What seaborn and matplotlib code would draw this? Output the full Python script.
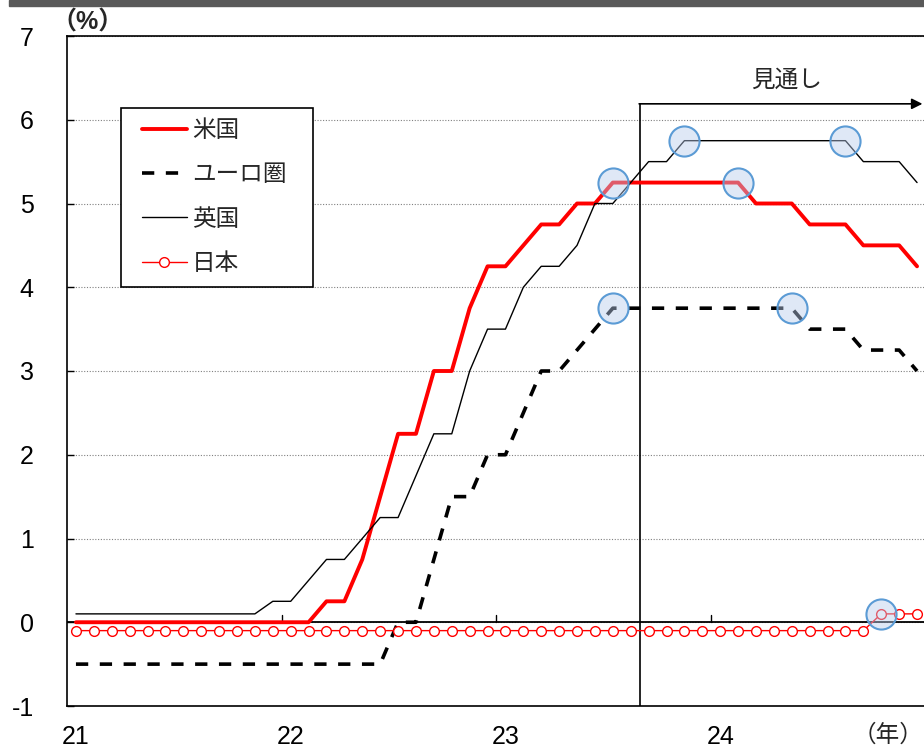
import numpy as np
import pandas as pd
import matplotlib
matplotlib.use("Agg")
import matplotlib.pyplot as plt
from matplotlib.patches import Rectangle
import seaborn as sns

# Policy rates, month-end, Jan 2021 - Dec 2024 (%)
months = pd.period_range("2021-01", "2024-12", freq="M")
year_labels = ["21", "22", "23", "24"]

us = [0, 0, 0, 0, 0, 0, 0, 0, 0, 0, 0, 0,
      0, 0, 0.25, 0.25, 0.75, 1.5, 2.25, 2.25, 3.0, 3.0, 3.75, 4.25,
      4.25, 4.5, 4.75, 4.75, 5.0, 5.0, 5.25, 5.25, 5.25, 5.25, 5.25, 5.25,
      5.25, 5.25, 5.0, 5.0, 5.0, 4.75, 4.75, 4.75, 4.5, 4.5, 4.5, 4.25]

euro = [-0.5, -0.5, -0.5, -0.5, -0.5, -0.5, -0.5, -0.5, -0.5, -0.5, -0.5, -0.5,
        -0.5, -0.5, -0.5, -0.5, -0.5, -0.5, 0, 0, 0.75, 1.5, 1.5, 2.0,
        2.0, 2.5, 3.0, 3.0, 3.25, 3.5, 3.75, 3.75, 3.75, 3.75, 3.75, 3.75,
        3.75, 3.75, 3.75, 3.75, 3.75, 3.5, 3.5, 3.5, 3.25, 3.25, 3.25, 3.0]

uk = [0.1, 0.1, 0.1, 0.1, 0.1, 0.1, 0.1, 0.1, 0.1, 0.1, 0.1, 0.25,
      0.25, 0.5, 0.75, 0.75, 1.0, 1.25, 1.25, 1.75, 2.25, 2.25, 3.0, 3.5,
      3.5, 4.0, 4.25, 4.25, 4.5, 5.0, 5.0, 5.25, 5.5, 5.5, 5.75, 5.75,
      5.75, 5.75, 5.75, 5.75, 5.75, 5.75, 5.75, 5.75, 5.5, 5.5, 5.5, 5.25]

japan = [-0.1, -0.1, -0.1, -0.1, -0.1, -0.1, -0.1, -0.1, -0.1, -0.1, -0.1, -0.1,
         -0.1, -0.1, -0.1, -0.1, -0.1, -0.1, -0.1, -0.1, -0.1, -0.1, -0.1, -0.1,
         -0.1, -0.1, -0.1, -0.1, -0.1, -0.1, -0.1, -0.1, -0.1, -0.1, -0.1, -0.1,
         -0.1, -0.1, -0.1, -0.1, -0.1, -0.1, -0.1, -0.1, -0.1, 0.1, 0.1, 0.1]

# Turning points marked with circles: (series, month)
highlights = [("米国", "2023-07"), ("米国", "2024-02"),
              ("ユーロ圏", "2023-07"), ("ユーロ圏", "2024-05"),
              ("英国", "2023-11"), ("英国", "2024-08"),
              ("日本", "2024-10")]
outlook_start = "2023-09"

df = pd.DataFrame({"月": np.arange(len(months)),
                   "米国": us, "ユーロ圏": euro, "英国": uk, "日本": japan})

sns.set_theme(style="white")
plt.rcParams["font.family"] = ["Liberation Sans", "Noto Sans CJK JP"]
plt.rcParams["axes.unicode_minus"] = False

FS = 18

fig = plt.figure(figsize=(9.24, 7.48), dpi=100)
W, H = 924, 748
ax = fig.add_axes([67 / W, 42 / H, (926 - 67) / W, 670 / H])

# dark band across the top of the panel
fig.patches.append(Rectangle((9 / W, 1 - 6 / H), 1, 6 / H,
                             transform=fig.transFigure, color="#595959", zorder=0))

ax.set_xlim(-0.5, len(months) - 0.5)
ax.set_ylim(-1, 7)

ax.set_yticks(range(-1, 8))
ax.yaxis.grid(True, linestyle=(0, (1, 1.5)), color="#808080", linewidth=0.8)
ax.xaxis.grid(False)
ax.axhline(0, color="black", linewidth=1.3, zorder=1.5)

# year boundary ticks on the zero line
year_starts = [i for i, m in enumerate(months) if m.month == 1]
for b in year_starts[1:]:
    ax.plot([b - 0.5, b - 0.5], [0, 0.09], color="black", lw=1.0, zorder=1.5)

sns.lineplot(data=df, x="月", y="米国", ax=ax, color="#FF0000", lw=2.8,
             label="米国", zorder=3)
sns.lineplot(data=df, x="月", y="ユーロ圏", ax=ax, color="black", lw=2.6,
             linestyle=(0, (3.4, 3.2)), dash_capstyle="butt", label="ユーロ圏", zorder=3)
sns.lineplot(data=df, x="月", y="英国", ax=ax, color="black", lw=1.0,
             label="英国", zorder=3)
sns.lineplot(data=df, x="月", y="日本", ax=ax, color="#FF0000", lw=1.0,
             marker="o", markersize=7, markerfacecolor="white",
             markeredgecolor="#FF0000", markeredgewidth=1.0, label="日本", zorder=3)

# highlight circles
month_index = {str(m): i for i, m in enumerate(months)}
hx = [month_index[m] for _, m in highlights]
hy = [df[s].iloc[month_index[m]] for s, m in highlights]
ax.scatter(hx, hy, s=470, facecolor=(0.72, 0.80, 0.93, 0.45),
           edgecolor="#5B9BD5", linewidth=1.5, zorder=4)

# outlook marker
ob = month_index[outlook_start] - 0.5
ax.plot([ob, ob], [-1, 6.19], color="black", lw=1.2, zorder=2)
ax.annotate("", xy=(47.3, 6.19), xytext=(ob - 0.03, 6.19),
            arrowprops=dict(arrowstyle="-|>", color="black", lw=1.2,
                            mutation_scale=16, shrinkA=0, shrinkB=0), zorder=2)
ax.text(39.7, 6.47, "見通し", ha="center", va="center", fontsize=17)

ax.set_xticks(year_starts)
ax.set_xticklabels(year_labels)
ax.tick_params(axis="x", length=0, pad=14, labelsize=FS, colors="black")
ax.tick_params(axis="y", direction="in", length=5, width=1.0, pad=24,
               labelsize=FS, colors="black", left=True)
ax.set_xlabel("")
ax.set_ylabel("")
for sp in ax.spines.values():
    sp.set_color("black")
    sp.set_linewidth(1.2)

fig.text(88 / W, 1 - 22 / H, "（%）", ha="center", va="center", fontsize=FS,
         fontweight="bold")
fig.text(923 / W, 1 - 735 / H, "（年）", ha="right", va="center", fontsize=17)

# legend with a plain rectangular frame
ax.add_patch(Rectangle((121 / W, 1 - 287 / H), 192 / W, 179 / H,
                       transform=fig.transFigure, facecolor="white",
                       edgecolor="black", lw=1.2, zorder=5, clip_on=False))
handles, labels = ax.get_legend_handles_labels()
leg = ax.legend(handles, labels, loc="center left", frameon=False,
                bbox_to_anchor=(142 / W, 1 - 197.5 / H),
                bbox_transform=fig.transFigure, borderpad=0, borderaxespad=0,
                fontsize=17, handlelength=1.9, handletextpad=0.22,
                labelspacing=0.95)
leg.set_zorder(6)

fig.savefig("out.png", dpi=100)
